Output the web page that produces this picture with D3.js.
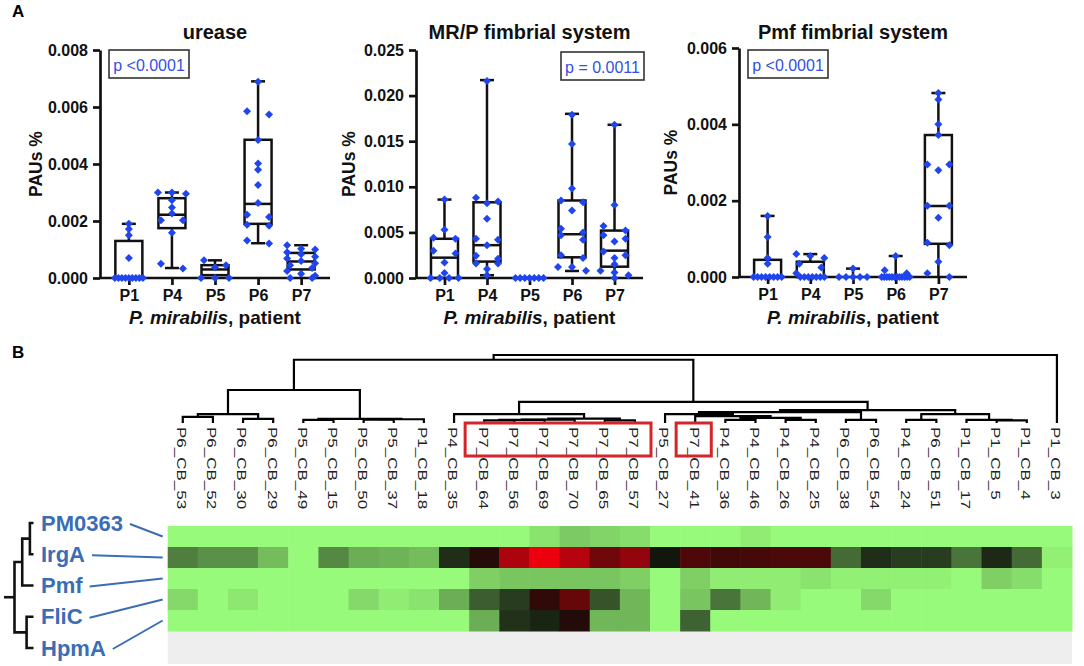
<!DOCTYPE html>
<html><head><meta charset="utf-8">
<script src="https://cdn.jsdelivr.net/npm/d3@7"></script>
<style>
body{margin:0;background:#fff;}
svg{display:block;font-family:"Liberation Sans",Arial,sans-serif;}
</style>
</head><body>
<svg id="c" width="1084" height="666"></svg>
<script>
// ---------------- DATA ----------------
const patients = ["P1","P4","P5","P6","P7"];

// box stats per patient: [min, q1, median, q3, max]
const ureaseStats = [[0,0,0,0.0013,0.0019],[0.00035,0.00175,0.00222,0.0028,0.003],[0,0.0001,0.0003,0.00045,0.00062],[0.00122,0.0019,0.0026,0.00485,0.0069],[0,0.0003,0.00058,0.00088,0.00115]];
const ureasePoints = [
  [0.0019,0.00172,0.0015,0.0007,0,0,0,0,0,0,0,0,0],
  [0.003,0.003,0.00296,0.00273,0.00247,0.00226,0.00203,0.00203,0.00159,0.0005,0.00033],
  [0.00062,0.00045,0.00038,0,0,0],
  [0.00689,0.00585,0.00574,0.00484,0.00402,0.0038,0.00326,0.00263,0.00222,0.00214,0.00187,0.00183,0.00132,0.00121],
  [0.00115,0.00103,0.001,0.0009,0.00083,0.00075,0.00068,0.0006,0.00052,0.00045,0.00035,0.00025,0.00015,0.00008,0,0]
];
const ureaseTicks = [0,0.002,0.004,0.006,0.008];
const ureaseP = "p <0.0001";

const mrpStats = [[0,0,0.00223,0.0043,0.0086],[0.0003,0.0018,0.0036,0.0083,0.0217],[0,0,0,0,0],[0.00077,0.00227,0.0048,0.0085,0.018],[0,0.00124,0.003,0.0052,0.0168]];
const mrpPoints = [
  [0.0086,0.0053,0.0044,0.0043,0.003,0.0027,0.0017,0.00055,0,0,0,0],
  [0.0216,0.0088,0.0084,0.0082,0.0065,0.0043,0.0042,0.0036,0.00245,0.0021,0.0016,0.0016,0.001,0.0003],
  [0,0,0,0,0,0,0],
  [0.0179,0.0147,0.0098,0.0085,0.0083,0.0074,0.0054,0.005,0.0047,0.0042,0.0025,0.0022,0.0012,0.0012,0.0008],
  [0.0168,0.008,0.0057,0.0052,0.0047,0.0043,0.004,0.0029,0.0025,0.0022,0.0015,0.0008,0.0006,0.0003,0]
];
const mrpTicks = [0,0.005,0.010,0.015,0.020,0.025];
const mrpP = "p = 0.0011";

const pmfStats = [[0,0,0,0.00045,0.0016],[0,0,0,0.0004,0.0006],[0,0,0,0,0.00022],[0,0,0,0,0.00055],[0,0.00087,0.00186,0.00372,0.00482]];
const pmfPoints = [
  [0.0016,0.00105,0.0005,0.00035,0,0,0,0,0,0,0,0],
  [0.0006,0.00055,0.0005,0.00035,0.00025,0.0001,0,0,0,0,0,0,0],
  [0.00022,0,0,0,0,0],
  [0.00055,0.00018,0.0001,0,0,0,0,0,0,0,0,0,0,0,0],
  [0.00482,0.00465,0.004,0.00372,0.00295,0.00295,0.0028,0.00187,0.00187,0.00155,0.0009,0.00083,0.0004,0.0001,0]
];
const pmfTicks = [0,0.002,0.004,0.006];
const pmfP = "p <0.0001";

const sampleLabels = ["P6_CB_53","P6_CB_52","P6_CB_30","P6_CB_29","P5_CB_49","P5_CB_15","P5_CB_50","P5_CB_37","P1_CB_18","P4_CB_35","P7_CB_64","P7_CB_56","P7_CB_69","P7_CB_70","P7_CB_65","P7_CB_57","P5_CB_27","P7_CB_41","P4_CB_36","P4_CB_46","P4_CB_26","P4_CB_25","P6_CB_38","P6_CB_54","P4_CB_24","P6_CB_51","P1_CB_17","P1_CB_5","P1_CB_4","P1_CB_3"];
const genes = ["PM0363","IrgA","Pmf","FliC","HpmA"];
const hmPM0363 = [0,0,0,0,0,0,0,0,0,0,0,0,0.05,0.1,0.08,0.06,0,0,0,0.03,0,0,0,0,0,0,0,0,0,0];
const hmIrgA   = [0.26,0.22,0.22,0.13,0,0.24,0.16,0.15,0.13,0.43,0.56,0.86,1.0,0.88,0.72,0.8,0.48,0.65,0.62,0.63,0.64,0.64,0.3,0.43,0.4,0.4,0.28,0.44,0.3,0.02];
const hmPmf    = [0,0,0,0,0,0,0,0,0,0,0.09,0.11,0.11,0.11,0.11,0.09,0,0.09,0.03,0.03,0.03,0.05,0.02,0.02,0.02,0.02,0,0.09,0.06,0];
const hmFliC   = [0.07,0,0.04,0,0,0,0.07,0.03,0.05,0.16,0.33,0.4,0.58,0.7,0.35,0.14,0,0.11,0.28,0.14,0.03,0,0,0.07,0,0,0,0,0,0];
const hmHpmA   = [0,0,0,0,0,0,0,0,0,0,0.16,0.42,0.45,0.55,0.14,0.14,0,0.32,0,0,0,0,0,0,0,0,0,0,0,0];

// sample dendrogram (leaf = column index, h = merge distance)
const sampleTree = {h:1.0, c:[
  {h:0.93, c:[
    {h:0.485, c:[
      {h:0.13, c:[{h:0.09,c:[0,1]},{h:0.06,c:[2,3]}]},
      {h:0.06, c:[{h:0.045,c:[4,5]},{h:0.055,c:[{h:0.05,c:[6,7]},8]}]}
    ]},
    {h:0.31, c:[
      {h:0.13, c:[9,{h:0.065,c:[{h:0.05,c:[{h:0.045,c:[{h:0.04,c:[10,11]},12]},13]},{h:0.04,c:[14,15]}]}]},
      {h:0.19, c:[
        {h:0.16, c:[{h:0.13,c:[16,{h:0.10,c:[17,{h:0.075,c:[{h:0.045,c:[18,19]},{h:0.045,c:[20,21]}]}]}]},{h:0.045,c:[22,23]}]},
        {h:0.13, c:[{h:0.045,c:[24,25]},{h:0.045,c:[26,{h:0.04,c:[27,28]}]}]}
      ]}
    ]}
  ]},
  29
]};
// gene dendrogram (leaf = gene index)
const geneTree = {h:3.0, c:[{h:1.78, c:[{h:0.57, c:[0,1]}, 2]}, {h:1.09, c:[3,4]}]};
const highlightGroups = [[10,15],[17,17]];

// ---------------- DRAW ----------------
const svg = d3.select("#c");
const BLUE = "#1f45ee";

svg.append("text").attr("x",12).attr("y",17).attr("font-weight","bold").attr("font-size",17).text("A");
svg.append("text").attr("x",12).attr("y",358).attr("font-weight","bold").attr("font-size",17).text("B");

const panels = [
  {title:"urease", stats:ureaseStats, pts:ureasePoints, ticks:ureaseTicks, p:ureaseP, x0:100, x1:330, yTop:50, yBot:278, pbox:[109,50,80,28], ylabX:42},
  {title:"MR/P fimbrial system", stats:mrpStats, pts:mrpPoints, ticks:mrpTicks, p:mrpP, x0:416, x1:643, yTop:50, yBot:278, pbox:[561,52,83,28], ylabX:355},
  {title:"Pmf fimbrial system", stats:pmfStats, pts:pmfPoints, ticks:pmfTicks, p:pmfP, x0:739, x1:967, yTop:48, yBot:277, pbox:[748,50,80,28], ylabX:677}
];
const diamond = d3.symbol(d3.symbolSquare, 32)();

panels.forEach(P => {
  const g = svg.append("g");
  const x = d3.scalePoint().domain(patients).range([P.x0, P.x1]).padding(0.67);
  const y = d3.scaleLinear().domain([0, d3.max(P.ticks)]).range([P.yBot, P.yTop]);
  const sw = 2.5, hw = 13.5, cw = 7;
  // boxes
  patients.forEach((pt, i) => {
    const [mn,q1,md,q3,mx] = P.stats[i];
    const cx = x(pt);
    const bg = g.append("g").attr("stroke","#111").attr("stroke-width",sw).attr("fill","none");
    if (mx === 0 && q3 === 0) return;
    if (mx > q3) bg.append("line").attr("x1",cx).attr("x2",cx).attr("y1",y(q3)).attr("y2",y(mx));
    if (q1 > mn) bg.append("line").attr("x1",cx).attr("x2",cx).attr("y1",y(mn)).attr("y2",y(q1));
    bg.append("line").attr("x1",cx-cw).attr("x2",cx+cw).attr("y1",y(mx)).attr("y2",y(mx));
    if (mn > 0) bg.append("line").attr("x1",cx-cw).attr("x2",cx+cw).attr("y1",y(mn)).attr("y2",y(mn));
    if (q3 > q1) {
      bg.append("rect").attr("x",cx-hw).attr("width",2*hw).attr("y",y(q3)).attr("height",y(q1)-y(q3));
      bg.append("line").attr("x1",cx-hw).attr("x2",cx+hw).attr("y1",y(md)).attr("y2",y(md));
    }
  });
  // axes
  const ya = g.append("g").attr("transform",`translate(${P.x0},0)`)
    .call(d3.axisLeft(y).tickValues(P.ticks).tickFormat(d3.format(".3f")).tickSize(7).tickSizeOuter(0).tickPadding(5));
  const xa = g.append("g").attr("transform",`translate(0,${P.yBot})`)
    .call(d3.axisBottom(x).tickSize(7).tickSizeOuter(0).tickPadding(5));
  [ya, xa].forEach(a => {
    a.select(".domain").attr("stroke","#111").attr("stroke-width",2.7);
    a.selectAll(".tick line").attr("stroke","#111").attr("stroke-width",2.7);
    a.selectAll(".tick text").attr("fill","#111").attr("font-size",16).attr("font-weight","bold")
      .attr("font-family","'Liberation Sans',Arial,sans-serif");
  });
  xa.select(".domain").attr("d",`M${P.x0},0H${P.x1}`);
  // points (simple beeswarm spread of near-equal values)
  patients.forEach((pt, i) => {
    const cx = x(pt);
    const vals = P.pts[i].slice().sort((a,b)=>b-a);
    const groups = [];
    vals.forEach(v => {
      const last = groups[groups.length-1];
      if (last && Math.abs(y(last[0]) - y(v)) < 5) last.push(v); else groups.push([v]);
    });
    groups.forEach(gr => {
      const n = gr.length, sp = n > 1 ? Math.min(22, 28/(n-1)) : 0;
      gr.forEach((v,k) => {
        g.append("path").attr("d", diamond).attr("fill", BLUE)
          .attr("transform",`translate(${cx + (k-(n-1)/2)*sp},${y(v)}) rotate(45)`);
      });
    });
  });
  // titles
  const mid = (P.x0 + P.x1)/2;
  g.append("text").attr("x",mid).attr("y",39).attr("text-anchor","middle").attr("font-weight","bold").attr("font-size",20).attr("fill","#111").text(P.title);
  const xt = g.append("text").attr("x",mid).attr("y",324).attr("text-anchor","middle").attr("font-weight","bold").attr("font-size",19).attr("fill","#111");
  xt.append("tspan").attr("font-style","italic").text("P. mirabilis");
  xt.append("tspan").text(", patient");
  g.append("text").attr("transform",`translate(${P.ylabX},${(P.yTop+P.yBot)/2}) rotate(-90)`).attr("text-anchor","middle")
    .attr("font-weight","bold").attr("font-size",17.5).attr("fill","#111").text("PAUs %");
  // p-value box
  const [bx,by,bw,bh] = P.pbox;
  g.append("rect").attr("x",bx).attr("y",by).attr("width",bw).attr("height",bh).attr("fill","#fff").attr("stroke","#333").attr("stroke-width",1.6);
  g.append("text").attr("x",bx+bw/2).attr("y",by+bh/2+1).attr("text-anchor","middle").attr("dominant-baseline","central")
    .attr("font-size",16).attr("fill","#3350e6").text(P.p);
});

// ---------------- HEATMAP ----------------
const hmRows = [hmPM0363, hmIrgA, hmPmf, hmFliC, hmHpmA];
const xc = d3.scaleBand().domain(d3.range(sampleLabels.length)).range([167.7, 1072]);
const yr = d3.scaleBand().domain(d3.range(genes.length)).range([526, 631]);
const color = d3.scaleLinear().domain([0,0.5,1]).range(["#98fa7a","#0c0c08","#ec000e"]).interpolate(d3.interpolateRgb);

svg.append("rect").attr("x",167.7).attr("y",631).attr("width",1072-167.7).attr("height",33).attr("fill","#eeeeee");
hmRows.forEach((row, r) => {
  row.forEach((v, c) => {
    svg.append("rect").attr("x",xc(c)).attr("y",yr(r)).attr("width",xc.bandwidth()+0.5).attr("height",yr.bandwidth()+0.5).attr("fill",color(v));
  });
});

// column labels
sampleLabels.forEach((lab, i) => {
  svg.append("text").attr("transform",`translate(${xc(i)+xc.bandwidth()/2-1},427) rotate(90) scale(1.36,1)`)
    .attr("dominant-baseline","central").attr("font-size",12.5).attr("fill","#222").text(lab);
});

// sample dendrogram
const yh = d3.scaleLinear().domain([0,1]).range([423,355]);
const dg = svg.append("g").attr("stroke","#000").attr("stroke-width",2.2).attr("fill","none");
function layoutS(node){
  if (typeof node === "number") return {x: xc(node)+xc.bandwidth()/2, h:0};
  const a = layoutS(node.c[0]), b = layoutS(node.c[1]);
  dg.append("path").attr("d",`M${a.x},${yh(a.h)}V${yh(node.h)}H${b.x}V${yh(b.h)}`);
  return {x:(a.x+b.x)/2, h:node.h};
}
layoutS(sampleTree);

// highlight boxes
highlightGroups.forEach(([s,e]) => {
  svg.append("rect").attr("x",xc(s)-4).attr("y",423).attr("width",xc(e)+xc.bandwidth()+1-(xc(s)-4)).attr("height",33)
    .attr("fill","none").attr("stroke","#d4252a").attr("stroke-width",3);
});

// gene labels, connectors, gene dendrogram
const GBLUE = "#3b6db5";
const gy = d3.scalePoint().domain(d3.range(genes.length)).range([523,648]);
genes.forEach((gn, i) => {
  const t = svg.append("text").attr("x",41).attr("y",gy(i)).attr("dominant-baseline","central")
    .attr("font-weight","bold").attr("font-size",22).attr("fill",GBLUE).text(gn);
  const w = t.node().getComputedTextLength();
  svg.append("line").attr("x1",41+w+7).attr("y1",gy(i)+1).attr("x2",xc(0)-5).attr("y2",yr(i)+yr.bandwidth()/2)
    .attr("stroke",GBLUE).attr("stroke-width",2);
});
const gx = d3.scaleLinear().domain([0,3]).range([33.5,14.5]);
const gg = svg.append("g").attr("stroke","#111").attr("stroke-width",2.6).attr("fill","none");
function layoutG(node){
  if (typeof node === "number") return {y: gy(node), h:0};
  const a = layoutG(node.c[0]), b = layoutG(node.c[1]);
  gg.append("path").attr("d",`M${gx(a.h)},${a.y}H${gx(node.h)}V${b.y}H${gx(b.h)}`);
  return {y:(a.y+b.y)/2, h:node.h};
}
const groot = layoutG(geneTree);
gg.append("path").attr("d",`M${gx(geneTree.h)},${groot.y}H4`);
</script>
</body></html>
